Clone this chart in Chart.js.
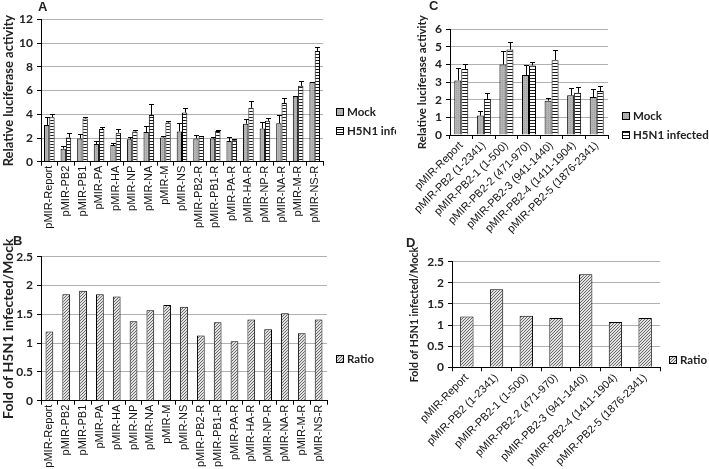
<!DOCTYPE html>
<html lang="en">
<head>
<meta charset="UTF-8">
<title>Luciferase activity - pMIR constructs</title>
<script src="https://cdn.jsdelivr.net/npm/chart.js"></script>
<style>
  body { margin: 0; background: #fff; }
  .wrap { position: relative; width: 709px; height: 469px; overflow: hidden; }
  canvas { position: absolute; }
  .tag { position: absolute; font: bold 13px 'Liberation Sans', Arial, sans-serif; line-height: 13px; color: #222; }
</style>
</head>
<body>
<div class="wrap">
  <canvas id="chartA" width="396" height="230" style="left:0;top:0"></canvas>
  <canvas id="chartB" width="396" height="239" style="left:0;top:230px"></canvas>
  <canvas id="chartC" width="313" height="235" style="left:396px;top:0"></canvas>
  <canvas id="chartD" width="313" height="234" style="left:396px;top:235px"></canvas>
  <div class="tag" style="left:38px;top:0px">A</div>
  <div class="tag" style="left:13px;top:234px">B</div>
  <div class="tag" style="left:429px;top:-1px">C</div>
  <div class="tag" style="left:406px;top:236px">D</div>
</div>

<script>
  // panel A / B : all constructs
  const catsA = ["pMIR-Report", "pMIR-PB2", "pMIR-PB1", "pMIR-PA", "pMIR-HA", "pMIR-NP", "pMIR-NA", "pMIR-M", "pMIR-NS",
                 "pMIR-PB2-R", "pMIR-PB1-R", "pMIR-PA-R", "pMIR-HA-R", "pMIR-NP-R", "pMIR-NA-R", "pMIR-M-R", "pMIR-NS-R"];
  const mockA    = [3.1, 1.1, 1.95, 1.5, 1.4, 1.9, 2.5, 2.05, 2.55, 1.95, 1.95, 1.75, 3.2, 2.8, 3.25, 5.5, 6.7];
  const mockErrA = [0.7, 0.2, 0.35, 0.25, 0.15, 0.15, 0.55, 0.1, 0.7, 0.3, 0.15, 0.3, 0.4, 0.55, 0.7, 0.05, 0.05];
  const infA     = [3.75, 2.05, 3.65, 2.75, 2.45, 2.55, 3.95, 3.3, 4.15, 2.15, 2.6, 1.8, 4.55, 3.45, 4.95, 6.4, 9.35];
  const infErrA  = [0.3, 0.35, 0.1, 0.15, 0.35, 0.1, 0.95, 0.15, 0.35, 0.05, 0.05, 0.1, 0.6, 0.2, 0.45, 0.45, 0.35];
  const ratioB   = [1.2, 1.85, 1.91, 1.85, 1.81, 1.38, 1.57, 1.66, 1.63, 1.13, 1.36, 1.03, 1.41, 1.24, 1.52, 1.17, 1.41];

  // panel C / D : PB2 fragments
  const catsC = ["pMIR-Report", "pMIR-PB2 (1-2341)", "pMIR-PB2-1 (1-500)", "pMIR-PB2-2 (471-970)",
                 "pMIR-PB2-3 (941-1440)", "pMIR-PB2-4 (1411-1904)", "pMIR-PB2-5 (1876-2341)"];
  const mockC    = [3.1, 1.1, 4.0, 3.4, 1.95, 2.25, 2.15];
  const mockErrC = [0.7, 0.25, 0.75, 0.55, 0.15, 0.4, 0.45];
  const infC     = [3.75, 2.05, 4.85, 3.95, 4.25, 2.4, 2.5];
  const infErrC  = [0.3, 0.35, 0.45, 0.2, 0.6, 0.35, 0.3];
  const ratioD   = [1.2, 1.85, 1.22, 1.17, 2.2, 1.07, 1.17];

  function makePattern(kind) {
    const c = document.createElement("canvas");
    const g = c.getContext("2d");
    if (kind === "gray") {
      c.width = 2; c.height = 2;
      g.fillStyle = "#b4b4b4"; g.fillRect(0, 0, 2, 2);
      g.fillStyle = "#a0a0a0"; g.fillRect(0, 0, 1, 1);
    } else if (kind === "stripes") {
      c.width = 3; c.height = 3;
      g.fillStyle = "#fff"; g.fillRect(0, 0, 3, 3);
      g.fillStyle = "#1c1c1c"; g.fillRect(0, 0, 3, 1);
    } else {
      c.width = 3; c.height = 3;
      g.fillStyle = "#e2e2e2"; g.fillRect(0, 0, 3, 3);
      g.fillStyle = "#6a6a6a";
      g.fillRect(2, 0, 1, 1); g.fillRect(1, 1, 1, 1); g.fillRect(0, 2, 1, 1);
    }
    return g.createPattern(c, "repeat");
  }
  const grayFill = makePattern("gray");
  const stripeFill = makePattern("stripes");
  const hatchFill = makePattern("hatch");

  const errorBars = {
    id: "errorBars",
    afterDatasetsDraw(chart) {
      const ctx = chart.ctx, y = chart.scales.y;
      chart.data.datasets.forEach((ds, i) => {
        if (!ds.errors) return;
        chart.getDatasetMeta(i).data.forEach((bar, j) => {
          const top = Math.round(y.getPixelForValue(ds.data[j] + ds.errors[j])) + 0.5;
          const x = Math.round(bar.x) + 0.5;
          ctx.save();
          ctx.strokeStyle = "#000";
          ctx.lineWidth = 1;
          ctx.beginPath();
          ctx.moveTo(x, bar.y); ctx.lineTo(x, top);
          ctx.moveTo(x - 2.5, top); ctx.lineTo(x + 2.5, top);
          ctx.stroke();
          ctx.restore();
        });
      });
    }
  };

  const boxLegend = {
    id: "boxLegend",
    afterDraw(chart, args, o) {
      const ctx = chart.ctx;
      chart.data.datasets.forEach((ds, i) => {
        const y = o.y + i * (o.gap || 0);
        ctx.save();
        ctx.fillStyle = ds.backgroundColor;
        ctx.fillRect(o.x, y - 4, 8, 8);
        ctx.strokeStyle = "#000";
        ctx.lineWidth = 1;
        ctx.strokeRect(o.x + 0.5, y - 3.5, 7, 7);
        ctx.fillStyle = "#222";
        ctx.font = "bold 11.5px Lato, 'Open Sans', sans-serif";
        ctx.textBaseline = "middle";
        ctx.fillText(ds.label, o.x + 11, y);
        ctx.restore();
      });
    }
  };

  function scales(opt) {
    return {
      x: {
        grid: { display: true, drawOnChartArea: false, drawTicks: true, tickLength: 4, color: "#000", offset: true },
        border: { color: "#000" },
        ticks: {
          autoSkip: false, padding: 0, color: "#111",
          minRotation: opt.rot, maxRotation: opt.rot,
          font: { family: "'Liberation Sans', Arial, sans-serif", size: opt.xFont }
        },
        afterFit(s) { s.height = opt.xHeight; s.paddingLeft = 0; s.paddingRight = 0; }
      },
      y: {
        min: 0, max: opt.max,
        grid: { color: "#b0b0b0", tickLength: 4, drawTicks: true, tickColor: "#000" },
        border: { color: "#000" },
        ticks: {
          stepSize: opt.step, padding: 4, color: "#222",
          callback: v => String(+v.toFixed(1)),
          font: { family: "Lato, 'Open Sans', sans-serif", size: 12, weight: "bold" }
        },
        title: {
          display: true, text: opt.title, color: "#222",
          padding: { top: opt.titlePad, bottom: 0 },
          font: { family: "Lato, 'Open Sans', sans-serif", size: opt.titleSize, weight: "bold" }
        },
        afterFit(s) { s.width = opt.yWidth; }
      }
    };
  }

  function baseOptions(opt) {
    return {
      responsive: false,
      animation: false,
      layout: { padding: { left: 0, right: opt.right, top: opt.top, bottom: 0 } },
      plugins: {
        legend: { display: false },
        tooltip: { enabled: false },
        boxLegend: opt.legend
      },
      scales: scales(opt)
    };
  }

  // A
  new Chart(document.getElementById("chartA"), {
    type: "bar",
    data: {
      labels: catsA,
      datasets: [
        { label: "Mock", data: mockA, errors: mockErrA, backgroundColor: grayFill, borderColor: "#000", borderWidth: 1,
          barPercentage: 1, categoryPercentage: 0.64 },
        { label: "H5N1 infected", data: infA, errors: infErrA, backgroundColor: stripeFill, borderColor: "#000", borderWidth: 1,
          barPercentage: 1, categoryPercentage: 0.64 }
      ]
    },
    options: baseOptions({ max: 12, step: 2, title: "Relative luciferase activity", titlePad: 1, titleSize: 13, yWidth: 41,
      xHeight: 68.3, rot: 90, xFont: 11, right: 73, top: 19.5, legend: { x: 336, y: 112, gap: 19 } }),
    plugins: [errorBars, boxLegend]
  });

  // B
  new Chart(document.getElementById("chartB"), {
    type: "bar",
    data: {
      labels: catsA,
      datasets: [
        { label: "Ratio", data: ratioB, backgroundColor: hatchFill, borderColor: "#000", borderWidth: 1,
          barPercentage: 0.46, categoryPercentage: 1 }
      ]
    },
    options: baseOptions({ max: 2.5, step: 0.5, title: "Fold of H5N1 infected/Mock", titlePad: 0, titleSize: 14, yWidth: 41,
      xHeight: 68.3, rot: 90, xFont: 11, right: 69, top: 26.7, legend: { x: 336, y: 129 } }),
    plugins: [boxLegend]
  });

  // C
  new Chart(document.getElementById("chartC"), {
    type: "bar",
    data: {
      labels: catsC,
      datasets: [
        { label: "Mock", data: mockC, errors: mockErrC, backgroundColor: grayFill, borderColor: "#000", borderWidth: 1,
          barPercentage: 1, categoryPercentage: 0.62 },
        { label: "H5N1 infected", data: infC, errors: infErrC, backgroundColor: stripeFill, borderColor: "#000", borderWidth: 1,
          barPercentage: 1, categoryPercentage: 0.62 }
      ]
    },
    options: baseOptions({ max: 6, step: 1, title: "Relative luciferase activity", titlePad: 19, titleSize: 11.5, yWidth: 54,
      xHeight: 100, rot: 45, xFont: 11, right: 101, top: 29.3, legend: { x: 226, y: 116, gap: 19 } }),
    plugins: [errorBars, boxLegend]
  });

  // D
  new Chart(document.getElementById("chartD"), {
    type: "bar",
    data: {
      labels: catsC,
      datasets: [
        { label: "Ratio", data: ratioD, backgroundColor: hatchFill, borderColor: "#000", borderWidth: 1,
          barPercentage: 0.45, categoryPercentage: 1 }
      ]
    },
    options: baseOptions({ max: 2.5, step: 0.5, title: "Fold of H5N1 infected/Mock", titlePad: 12, titleSize: 10.5, yWidth: 56,
      xHeight: 101.7, rot: 45, xFont: 11, right: 49, top: 26.7, legend: { x: 273, y: 125 } }),
    plugins: [boxLegend]
  });
</script>
</body>
</html>
